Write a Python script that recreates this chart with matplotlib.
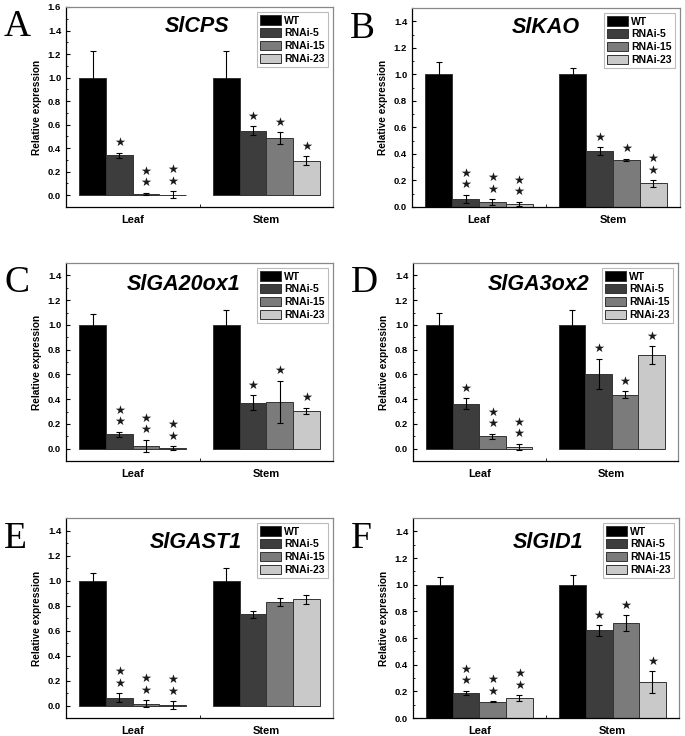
import numpy as np
import matplotlib
matplotlib.use("Agg")
import matplotlib.pyplot as plt
from matplotlib.ticker import MultipleLocator, FixedLocator

plt.rcParams["font.family"] = ["Liberation Sans", "DejaVu Sans"]

# -------------------------
# Data
# -------------------------

tissues = ["Leaf", "Stem"]
lines = ["WT", "RNAi-5", "RNAi-15", "RNAi-23"]
colors = ["#000000", "#3d3d3d", "#7b7b7b", "#c9c9c9"]

panel_letters = ["A", "B", "C", "D", "E", "F"]
genes = ["SlCPS", "SlKAO", "SlGA20ox1", "SlGA3ox2", "SlGAST1", "SlGID1"]

# values per gene: [Leaf x 4 lines, Stem x 4 lines]
cps_val = [1.0, 0.34, 0.01, 0.005, 1.0, 0.55, 0.485, 0.295]
cps_err = [0.23, 0.02, 0.01, 0.03, 0.23, 0.035, 0.05, 0.035]
cps_sig = [0, 1, 2, 2, 0, 1, 1, 1]

kao_val = [1.0, 0.063, 0.038, 0.025, 1.0, 0.42, 0.355, 0.178]
kao_err = [0.09, 0.03, 0.02, 0.015, 0.05, 0.03, 0.01, 0.025]
kao_sig = [0, 2, 2, 2, 0, 1, 1, 2]

ga20_val = [1.0, 0.115, 0.021, 0.005, 1.0, 0.37, 0.38, 0.306]
ga20_err = [0.09, 0.02, 0.05, 0.015, 0.12, 0.06, 0.17, 0.025]
ga20_sig = [0, 2, 2, 2, 0, 1, 1, 1]

ga3_val = [1.0, 0.362, 0.099, 0.013, 1.0, 0.603, 0.437, 0.756]
ga3_err = [0.1, 0.045, 0.02, 0.025, 0.12, 0.125, 0.025, 0.07]
ga3_sig = [0, 1, 2, 2, 0, 1, 1, 1]

gast_val = [1.0, 0.064, 0.016, 0.003, 1.0, 0.729, 0.828, 0.85]
gast_err = [0.06, 0.035, 0.025, 0.03, 0.1, 0.03, 0.03, 0.035]
gast_sig = [0, 2, 2, 2, 0, 0, 0, 0]

gid_val = [1.0, 0.19, 0.122, 0.15, 1.0, 0.657, 0.71, 0.27]
gid_err = [0.06, 0.015, 0.005, 0.02, 0.075, 0.04, 0.06, 0.08]
gid_sig = [0, 2, 2, 2, 0, 1, 1, 1]

all_val = [cps_val, kao_val, ga20_val, ga3_val, gast_val, gid_val]
all_err = [cps_err, kao_err, ga20_err, ga3_err, gast_err, gid_err]
all_sig = [cps_sig, kao_sig, ga20_sig, ga3_sig, gast_sig, gid_sig]

ylims = [(-0.1, 1.6), (0.0, 1.5), (-0.1, 1.5), (-0.1, 1.5), (-0.1, 1.5), (0.0, 1.5)]
ymaxtick = [1.6, 1.4, 1.4, 1.4, 1.4, 1.4]

# -------------------------
# Layout (pixels: left, right, top, bottom)
# -------------------------

W, H = 685, 736
boxes = [
    (66, 333, 7, 207), (412, 680, 8, 207),
    (66, 333, 263, 461), (413, 678, 263, 461),
    (66, 333, 518, 718), (413, 679, 518, 718),
]
title_x = [0.49, 0.50, 0.44, 0.475, 0.487, 0.506]
title_y = [0.905, 0.90, 0.89, 0.89, 0.875, 0.875]

fig = plt.figure(figsize=(W / 100, H / 100), dpi=100)

bw = 0.2
x = np.arange(len(tissues))

for i in range(6):
    l, r, t, b = boxes[i]
    ax = fig.add_axes([l / W, 1 - b / H, (r - l) / W, (b - t) / H])
    vals = np.array(all_val[i]).reshape(2, 4)
    errs = np.array(all_err[i]).reshape(2, 4)
    sigs = np.array(all_sig[i]).reshape(2, 4)

    for j, name in enumerate(lines):
        pos = x + (j - 1.5) * bw
        ax.bar(pos, vals[:, j], width=bw, color=colors[j],
               edgecolor="#333333", linewidth=0.7, label=name, zorder=2)
        ax.errorbar(pos, vals[:, j], yerr=errs[:, j], fmt="none",
                    ecolor="#000000", elinewidth=0.8, capsize=2.0,
                    capthick=0.8, zorder=3)
        for k in range(2):
            n = sigs[k, j]
            if n > 0:
                ax.annotate("\n".join(["★"] * n),
                            (pos[k], vals[k, j] + errs[k, j]),
                            xytext=(0, 2.5), textcoords="offset points",
                            ha="center", va="bottom", fontsize=8.8,
                            linespacing=0.85,
                            family=["DejaVu Sans"], color="#1a1a1a")

    ax.set_xlim(-0.5, 1.5)
    ax.set_ylim(*ylims[i])
    ax.set_xticks(x)
    ax.set_xticklabels(tissues, fontsize=8, fontweight="bold")
    ax.xaxis.set_minor_locator(FixedLocator([0.5]))
    ax.set_yticks(np.round(np.arange(0, ymaxtick[i] + 0.01, 0.2), 1))
    ax.yaxis.set_minor_locator(MultipleLocator(0.1))
    ax.set_yticklabels([f"{v:.1f}" for v in ax.get_yticks()],
                       fontsize=6.8, fontweight="bold")
    ax.tick_params(axis="both", which="both", direction="in")
    ax.tick_params(axis="x", which="major", length=0, pad=6)
    ax.tick_params(axis="x", which="minor", length=2)
    ax.tick_params(axis="y", which="major", length=3)
    ax.tick_params(axis="y", which="minor", length=1.5)
    ax.set_ylabel("Relative expression", fontsize=7.3, fontweight="bold")
    for s in ["top", "right"]:
        ax.spines[s].set_color("#888888")
    for s in ax.spines.values():
        s.set_linewidth(0.9)

    ax.text(title_x[i], title_y[i], genes[i], transform=ax.transAxes,
            ha="center", va="center", fontsize=15.5, fontweight="bold",
            fontstyle="italic")
    leg = ax.legend(loc="upper right", frameon=True, fancybox=False,
                    handlelength=2.0, handleheight=1.0, borderpad=0.3,
                    labelspacing=0.25, handletextpad=0.3, borderaxespad=0.5,
                    prop={"weight": "bold", "size": 7.5})
    leg.get_frame().set_edgecolor("#aaaaaa")
    leg.get_frame().set_linewidth(0.8)

    fig.text((l - 62) / W, 1 - (t + 3) / H, panel_letters[i],
             family=["Liberation Serif"], fontsize=27, ha="left", va="top")

fig.savefig("out.png", dpi=100)
